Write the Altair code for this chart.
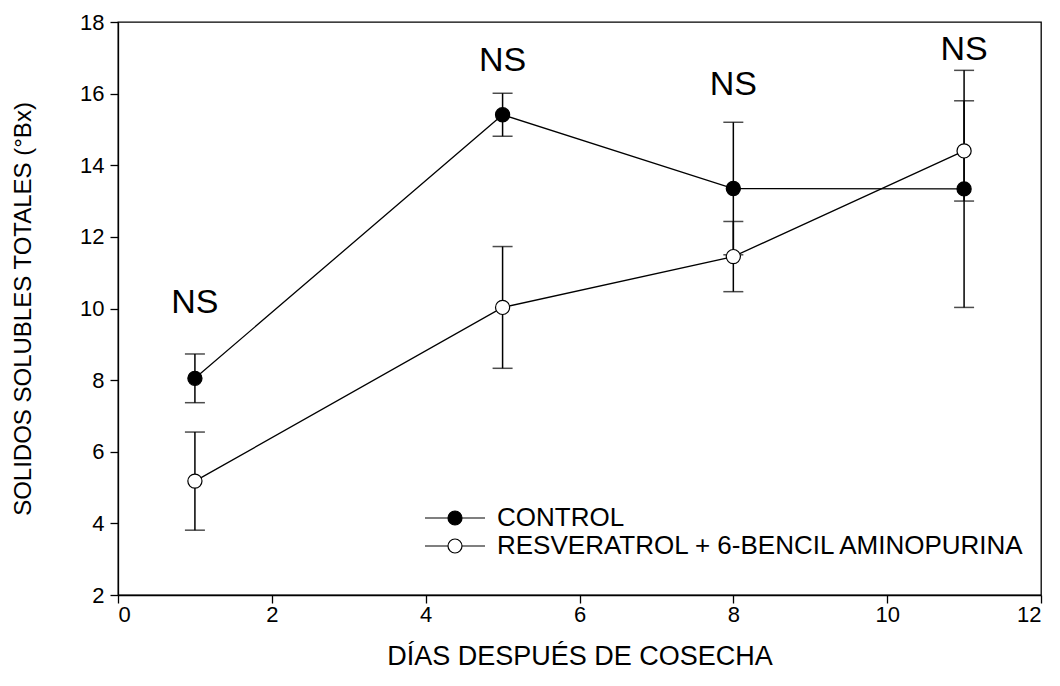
import altair as alt
import pandas as pd

# Total soluble solids (°Bx) per sampling day and treatment (mean ± error)
days = [1, 5, 8, 11]
series_names = ["CONTROL", "RESVERATROL + 6-BENCIL AMINOPURINA"]
control_mean = [8.05, 15.41, 13.35, 13.34]
control_err = [0.68, 0.60, 1.85, 3.31]
resv_mean = [5.18, 10.03, 11.45, 14.40]
resv_err = [1.37, 1.70, 0.98, 1.40]

# Significance labels above each sampling day
ns_labels = ["NS", "NS", "NS", "NS"]
ns_y = [10.15, 16.9, 16.25, 17.22]

FONT = "Liberation Sans"

rows = []
for name, means, errs in [(series_names[0], control_mean, control_err),
                          (series_names[1], resv_mean, resv_err)]:
    for d, m, e in zip(days, means, errs):
        rows.append({"dia": d, "serie": name, "media": m,
                     "lo": m - e, "hi": m + e})
df = pd.DataFrame(rows)
ns_df = pd.DataFrame({"dia": days, "y": ns_y, "txt": ns_labels})

x_scale = alt.Scale(domain=[0, 12], nice=False, zero=False)
y_scale = alt.Scale(domain=[2, 18], nice=False, zero=False)

x_axis = alt.Axis(title="DÍAS DESPUÉS DE COSECHA", values=list(range(0, 13, 2)),
                  format="d", grid=False, tickSize=8, labelPadding=1,
                  titlePadding=18, titleFontSize=27)
y_axis = alt.Axis(title="SOLIDOS SOLUBLES TOTALES (°Bx)", values=list(range(2, 19, 2)),
                  format="d", grid=False, tickSize=8, labelPadding=6,
                  titlePadding=44, titleFontSize=24)

base = alt.Chart(df)

lines = base.mark_line(color="black", strokeWidth=1.3).encode(
    x=alt.X("dia:Q", scale=x_scale, axis=x_axis),
    y=alt.Y("media:Q", scale=y_scale, axis=y_axis),
    detail="serie:N",
)

bars = base.mark_rule(color="black", strokeWidth=1.5).encode(
    x="dia:Q", y="lo:Q", y2="hi:Q"
)

caps_lo = base.mark_tick(orient="horizontal", size=20, thickness=1.5, color="black").encode(
    x="dia:Q", y="lo:Q"
)
caps_hi = base.mark_tick(orient="horizontal", size=20, thickness=1.5, color="black").encode(
    x="dia:Q", y="hi:Q"
)

# Legend symbol: a short line with a circle in the middle
legend_path = ("M-3,0H-0.7M0.7,0H3"
               "M-0.7,0A0.7,0.7,0,1,0,0.7,0A0.7,0.7,0,1,0,-0.7,0Z")

points = base.mark_point(shape="circle", size=200, stroke="black", strokeWidth=1.2,
                         opacity=1, fillOpacity=1).encode(
    x="dia:Q",
    y="media:Q",
    fill=alt.Fill(
        "serie:N",
        scale=alt.Scale(domain=series_names, range=["black", "white"]),
        legend=alt.Legend(
            title=None, orient="none", legendX=324, legendY=483,
            symbolType=legend_path, symbolSize=400, symbolStrokeColor="black",
            symbolStrokeWidth=1.2, labelFont=FONT, labelFontSize=26,
            labelLimit=800, labelColor="black", labelOffset=29,
            rowPadding=2, padding=0,
        ),
    ),
)

ns_text = alt.Chart(ns_df).mark_text(font=FONT, fontSize=34, color="black",
                                     baseline="middle", align="center").encode(
    x="dia:Q", y="y:Q", text="txt:N"
)

chart = alt.layer(lines, bars, caps_lo, caps_hi, points, ns_text).properties(
    width=923,
    height=573,
    autosize=alt.AutoSizeParams(type="none"),
    padding={"left": 118, "top": 22, "right": 19, "bottom": 91},
    background="white",
).configure_view(
    stroke="black", strokeWidth=1.3
).configure_axis(
    domainColor="black", domainWidth=1.3, tickColor="black", tickWidth=1.3,
    labelFont=FONT, labelFontSize=22, labelColor="black",
    titleFont=FONT, titleFontWeight="normal", titleColor="black",
)

chart.save("out.html", embed_options={"renderer": "svg", "actions": False})
